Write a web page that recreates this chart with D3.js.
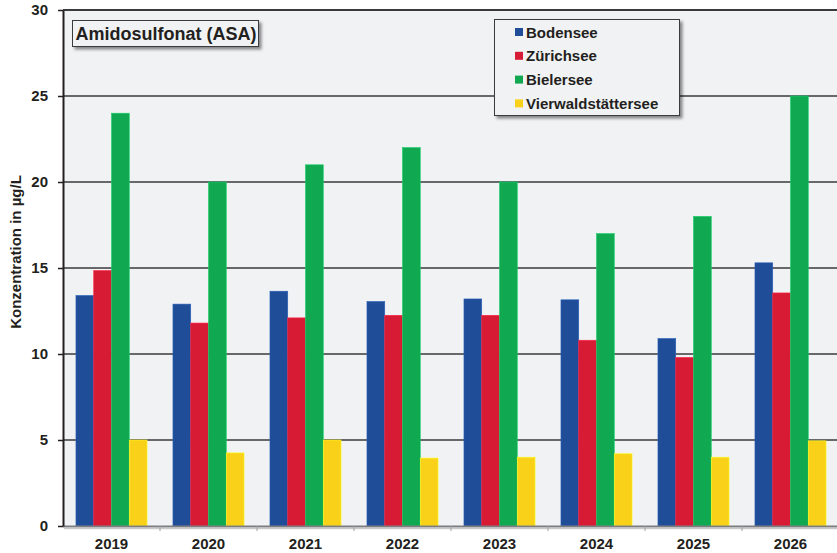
<!DOCTYPE html>
<html><head><meta charset="utf-8">
<script src="https://cdn.jsdelivr.net/npm/d3@7/dist/d3.min.js"></script>
<style>body{margin:0;background:#fff}svg{display:block}text{font-family:"Liberation Sans",Arial,sans-serif;font-weight:bold;fill:#231f20}</style>
</head><body><svg id="c" width="837" height="553"></svg>
<script>
const years = ["2019","2020","2021","2022","2023","2024","2025","2026"];
const seriesNames = ["Bodensee","Zürichsee","Bielersee","Vierwaldstättersee"];
const bodensee = [13.4,12.9,13.65,13.05,13.2,13.15,10.9,15.3];
const zuerichsee = [14.85,11.8,12.1,12.25,12.25,10.8,9.8,13.55];
const bielersee = [24,20,21,22,20,17,18,25];
const vierwaldstaettersee = [5,4.25,5,3.95,4,4.2,4,4.95];
const yTicks = [0,5,10,15,20,25,30];
const colors = ["#1f4d97","#d81b34","#10a952","#f9d118"];
const title = "Amidosulfonat (ASA)";
const yLabel = "Konzentration in µg/L";

const values = [bodensee, zuerichsee, bielersee, vierwaldstaettersee];
const svg = d3.select("#c");
const L = 63, R = 839, T = 10, B = 526;
const x = d3.scaleBand().domain(years).range([L, R]);
const xs = d3.scaleBand().domain(seriesNames).range([0, x.bandwidth()]).paddingInner(0).paddingOuter(0.73);
const y = d3.scaleLinear().domain([0, 30]).range([B, T]);

const defs = svg.append("defs");
const f = defs.append("filter").attr("id","sh").attr("x","-10%").attr("y","-10%").attr("width","130%").attr("height","140%");
f.append("feDropShadow").attr("dx",2.5).attr("dy",2.5).attr("stdDeviation",1.5).attr("flood-color","#000").attr("flood-opacity",0.45);

svg.append("rect").attr("x",L).attr("y",T).attr("width",R-L).attr("height",B-T).attr("fill","#f1f2f4");

// gridlines
svg.append("g").selectAll("line").data(yTicks.filter(d=>d>0)).join("line")
  .attr("x1",L).attr("x2",R).attr("y1",d=>y(d)).attr("y2",d=>y(d))
  .attr("stroke","#3a3a3c").attr("stroke-width",d=>d===30?2:1.5);

// bars
years.forEach((yr,i)=>{
  seriesNames.forEach((s,j)=>{
    const v = values[j][i];
    svg.append("rect")
      .attr("x", x(yr)+xs(s)).attr("y", y(v))
      .attr("width", xs.bandwidth()).attr("height", B - y(v))
      .attr("fill", colors[j]).attr("stroke", d3.color(colors[j]).brighter(0.6)).attr("stroke-width",0.6);
  });
});

// x axis baseline
svg.append("line").attr("x1",L).attr("x2",R).attr("y1",B+0.5).attr("y2",B+0.5).attr("stroke","#7d7d80").attr("stroke-width",2);
svg.append("line").attr("x1",L+1).attr("x2",R).attr("y1",B+2.5).attr("y2",B+2.5).attr("stroke","#c9c9cc").attr("stroke-width",1.5);
const xAxis = svg.append("g").attr("transform",`translate(0,${B+1})`)
  .call(d3.axisBottom(x).tickSize(0).tickPadding(11));
xAxis.select(".domain").remove();
xAxis.selectAll("text").style("font-size","15px").attr("fill","#231f20");
svg.append("g").selectAll("line").data(years.slice(1)).join("line")
  .attr("x1",d=>x(d)).attr("x2",d=>x(d)).attr("y1",B).attr("y2",B+5)
  .attr("stroke","#a0a0a3").attr("stroke-width",1);

// y axis
const yAxis = svg.append("g").attr("transform",`translate(${L},0)`)
  .call(d3.axisLeft(y).tickValues(yTicks).tickSize(5).tickPadding(10).tickSizeOuter(0));
yAxis.select(".domain").attr("stroke","#231f20").attr("stroke-width",2);
yAxis.selectAll(".tick line").attr("stroke","#231f20").attr("stroke-width",1.5);
yAxis.selectAll("text").style("font-size","15px").attr("fill","#231f20");

svg.append("text").attr("transform",`translate(21,252) rotate(-90)`)
  .attr("text-anchor","middle").style("font-size","15px").text(yLabel);

// title box
const tg = svg.append("g");
tg.append("rect").attr("x",72.5).attr("y",20.5).attr("width",186).attr("height",26)
  .attr("fill","#f1f2f4").attr("stroke","#3a3a3c").attr("stroke-width",1).attr("filter","url(#sh)");
tg.append("text").attr("x",166).attr("y",40).attr("text-anchor","middle").style("font-size","18px").text(title);

// legend
const lg = svg.append("g");
lg.append("rect").attr("x",494.5).attr("y",19.5).attr("width",185).attr("height",96)
  .attr("fill","#f1f2f4").attr("stroke","#3a3a3c").attr("stroke-width",1).attr("filter","url(#sh)");
seriesNames.forEach((s,j)=>{
  const cy = 32 + j*23.8;
  lg.append("rect").attr("x",515).attr("y",cy-4).attr("width",8).attr("height",8).attr("fill",colors[j]);
  lg.append("text").attr("x",526).attr("y",cy+5.5).style("font-size","15px").text(s);
});
</script></body></html>
